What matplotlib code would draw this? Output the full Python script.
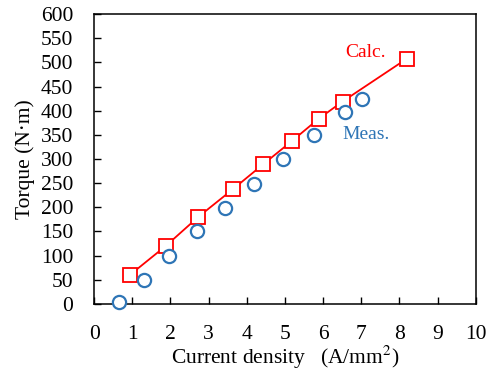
import matplotlib
matplotlib.use("Agg")
import matplotlib.pyplot as plt

# calculated torque
calc_j = [0.94, 1.88, 2.73, 3.63, 4.43, 5.18, 5.88, 6.51, 8.2]
calc_t = [60, 120, 180, 237, 289, 337, 383, 419, 508]

# measured torque
meas_j = [0.65, 1.3, 1.97, 2.7, 3.44, 4.19, 4.96, 5.76, 6.57, 7.01]
meas_t = [3, 50, 99, 150, 199, 249, 299, 349, 398, 424]

plt.rcParams['font.family'] = ['Liberation Serif', 'DejaVu Serif']
plt.rcParams['mathtext.fontset'] = 'stix'

red = "#ff0000"
blue = "#2e75b6"

fig = plt.figure(figsize=(4.9, 3.71), dpi=100)
ax = fig.add_axes([0.192, 0.181, 0.779, 0.781])

ax.plot(calc_j, calc_t, color=red, lw=1.3, marker="s", ms=9.5,
        mfc="white", mec=red, mew=1.3, zorder=3)
ax.plot(meas_j, meas_t, ls="none", marker="o", ms=9.5,
        mfc="white", mec=blue, mew=1.6, zorder=4, clip_on=False)

ax.text(7.1, 521, "Calc.", color=red, fontsize=14, ha="center", va="center")
ax.text(7.12, 350, "Meas.", color=blue, fontsize=14, ha="center", va="center")

ax.set_xlim(0, 10)
ax.set_ylim(0, 600)
ax.set_xticks(range(0, 11))
ax.set_yticks(range(0, 601, 50))
ax.tick_params(direction="in", length=5, width=1, labelsize=15.5)
ax.tick_params(axis="y", pad=15)
ax.tick_params(axis="x", pad=15)
for s in ax.spines.values():
    s.set_linewidth(1.1)

ax.set_xlabel("Current density   (A/mm$^2$)", fontsize=15.5, labelpad=0)
ax.set_ylabel("Torque (N·m)", fontsize=15.5, labelpad=4)

fig.savefig("out.png", dpi=100)
